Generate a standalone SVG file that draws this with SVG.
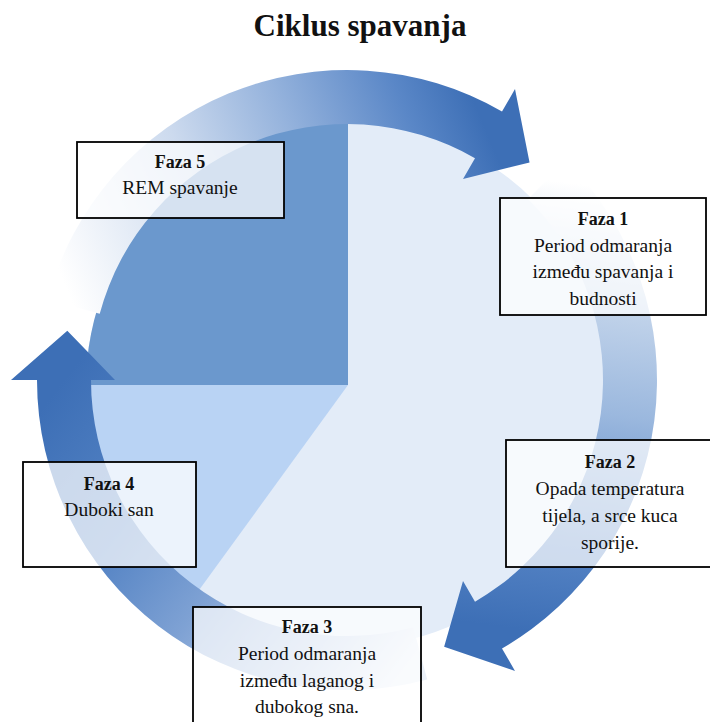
<svg xmlns="http://www.w3.org/2000/svg" width="710" height="722" viewBox="0 0 710 722">
  <defs>
    <style>
      .box { fill: #ffffff; fill-opacity: 0.72; stroke: #000000; stroke-width: 1.8; }
      .lbl { font-family: "Liberation Serif", "Times New Roman", serif; font-size: 18px; font-weight: bold; fill: #111111; text-anchor: middle; }
      .txt { font-family: "Liberation Serif", "Times New Roman", serif; font-size: 19.5px; fill: #111111; text-anchor: middle; }
      .title { font-family: "Liberation Serif", "Times New Roman", serif; font-size: 31px; font-weight: bold; fill: #111111; text-anchor: middle; }
    </style>
    <linearGradient id="gTop" gradientUnits="userSpaceOnUse" x1="74" y1="307" x2="488" y2="135">
      <stop offset="0" stop-color="#ffffff"/>
      <stop offset="0.35" stop-color="#ccdaee"/>
      <stop offset="0.6" stop-color="#94b2dc"/>
      <stop offset="0.85" stop-color="#5a87c7"/>
      <stop offset="1" stop-color="#3d6fb6"/>
    </linearGradient>
    <linearGradient id="gRight" gradientUnits="userSpaceOnUse" x1="547" y1="180" x2="489" y2="625">
      <stop offset="0" stop-color="#ffffff"/>
      <stop offset="0.25" stop-color="#c4d5eb"/>
      <stop offset="0.5" stop-color="#9bb8de"/>
      <stop offset="0.8" stop-color="#5684c5"/>
      <stop offset="1" stop-color="#3d6fb6"/>
    </linearGradient>
    <linearGradient id="gLeft" gradientUnits="userSpaceOnUse" x1="420" y1="653" x2="64" y2="380">
      <stop offset="0" stop-color="#eaf0f8"/>
      <stop offset="0.2" stop-color="#b8cbe7"/>
      <stop offset="0.45" stop-color="#7fa2d4"/>
      <stop offset="0.7" stop-color="#5483c4"/>
      <stop offset="1" stop-color="#3d6fb6"/>
    </linearGradient>
  </defs>

  <rect x="0" y="0" width="710" height="722" fill="#ffffff"/>

  <g id="title">
    <text class="title" x="360" y="36">Ciklus spavanja</text>
  </g>

  <g id="pie">
    <circle cx="348" cy="385" r="262" fill="#e3ecf8"/>
    <path d="M348,385 L348,123 A262,262 0 0 0 86,385 Z" fill="#6b98cd"/>
    <path d="M348,385 L86,385 A262,262 0 0 0 194,597 Z" fill="#b9d3f4"/>
  </g>

  <g id="connectors">
    <path id="arrow-top" fill="url(#gTop)" d="M47.56,299.77 A310,310 0 0 1 502,111.53 L515,89.01 L529.55,162.44 L463,179.08 L475,158.30 A256,256 0 0 0 99.72,313.74 Z"/>
    <path id="arrow-right" fill="url(#gRight)" d="M566.2,160.8 A310,310 0 0 1 502,648.47 L515,670.99 L444.13,646.87 L463,580.92 L475,601.70 A256,256 0 0 0 528.02,198.98 Z"/>
    <path id="arrow-left" fill="url(#gLeft)" d="M427.23,679.44 A310,310 0 0 1 37,380 L11,380 L67.31,330.68 L115,380 L91,380 A256,256 0 0 0 413.26,627.28 Z"/>
  </g>

  <g id="faza5">
    <rect class="box" x="77" y="142" width="207" height="76"/>
    <text class="lbl" x="180" y="168">Faza 5</text>
    <text class="txt" x="180" y="194">REM spavanje</text>
  </g>

  <g id="faza1">
    <rect class="box" x="500" y="198" width="206" height="117"/>
    <text class="lbl" x="603" y="225">Faza 1</text>
    <text class="txt" x="603" y="252">Period odmaranja</text>
    <text class="txt" x="603" y="278">između spavanja i</text>
    <text class="txt" x="603" y="305">budnosti</text>
  </g>

  <g id="faza2">
    <rect class="box" x="506" y="440" width="206" height="127"/>
    <text class="lbl" x="610" y="468">Faza 2</text>
    <text class="txt" x="610" y="495">Opada temperatura</text>
    <text class="txt" x="610" y="522">tijela, a srce kuca</text>
    <text class="txt" x="610" y="549">sporije.</text>
  </g>

  <g id="faza3">
    <rect class="box" x="193" y="607" width="228" height="125"/>
    <text class="lbl" x="307" y="633">Faza 3</text>
    <text class="txt" x="307" y="660">Period odmaranja</text>
    <text class="txt" x="307" y="687">između laganog i</text>
    <text class="txt" x="307" y="713">dubokog sna.</text>
  </g>

  <g id="faza4">
    <rect class="box" x="23" y="462" width="173" height="105"/>
    <text class="lbl" x="109" y="490">Faza 4</text>
    <text class="txt" x="109" y="516">Duboki san</text>
  </g>
</svg>
